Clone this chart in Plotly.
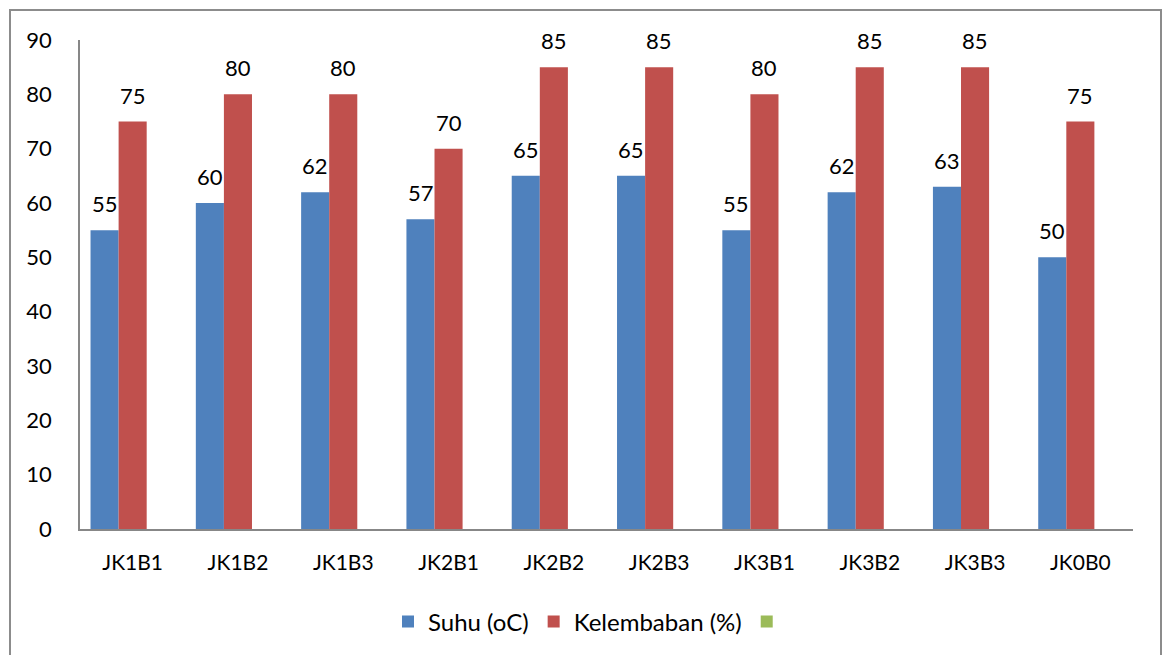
import plotly.graph_objects as go

# Treatment codes and measured values
categories = ["JK1B1", "JK1B2", "JK1B3", "JK2B1", "JK2B2",
              "JK2B3", "JK3B1", "JK3B2", "JK3B3", "JK0B0"]
suhu = [55, 60, 62, 57, 65, 65, 55, 62, 63, 50]
kelembaban = [75, 80, 80, 70, 85, 85, 80, 85, 85, 75]
ketiga = [None] * len(categories)  # third series, no values entered

y_ticks = [0, 10, 20, 30, 40, 50, 60, 70, 80, 90]

FONT = "Lato"
BLUE, RED, GREEN = "#4F81BD", "#C0504D", "#9BBB59"
AXIS = "#878787"

W, H = 1163, 655
ML, MR, MT, MB = 80, 30, 40, 125
PW, PH = W - ML - MR, H - MT - MB

fig = go.Figure()
fig.add_trace(go.Bar(x=categories, y=suhu, name="Suhu (oC)",
                     marker=dict(color=BLUE, line=dict(width=0))))
fig.add_trace(go.Bar(x=categories, y=kelembaban, name="Kelembaban (%)",
                     marker=dict(color=RED, line=dict(width=0))))
fig.add_trace(go.Bar(x=categories, y=ketiga, name="",
                     marker=dict(color=GREEN, line=dict(width=0))))

# value labels above each bar
label_font = dict(family=FONT, size=22, color="black")
annotations = []
for cat, v in zip(categories, suhu):
    annotations.append(dict(x=cat, y=v, text=str(v), showarrow=False,
                            xref="x", yref="y", xshift=-28, yshift=11,
                            yanchor="bottom", font=label_font))
for cat, v in zip(categories, kelembaban):
    annotations.append(dict(x=cat, y=v, text=str(v), showarrow=False,
                            xref="x", yref="y", xshift=0, yshift=11,
                            yanchor="bottom", font=label_font))

def px_x(p):
    return (p - ML) / PW

def px_y(p):
    return (H - MB - p) / PH

# chart frame
shapes = [dict(type="rect", xref="paper", yref="paper",
               x0=px_x(10), x1=px_x(1161), y0=px_y(675), y1=px_y(10),
               line=dict(color="#8C8C8C", width=2), fillcolor="rgba(0,0,0,0)",
               layer="below")]

fig.update_layout(
    width=W, height=H,
    margin=dict(l=ML, r=MR, t=MT, b=MB),
    paper_bgcolor="white", plot_bgcolor="white",
    barmode="group", bargap=0.2, bargroupgap=0,
    font=dict(family=FONT, size=20, color="black"),
    showlegend=True,
    legend=dict(orientation="h", x=px_x(590), xanchor="center",
                y=px_y(622), yanchor="middle",
                font=dict(family=FONT, size=24, color="black"),
                itemsizing="constant", traceorder="normal",
                bgcolor="rgba(0,0,0,0)"),
    annotations=annotations,
    shapes=shapes,
    xaxis=dict(showline=True, linecolor=AXIS, linewidth=1.5,
               showgrid=False, ticks="", ticklabelstandoff=14,
               tickfont=dict(family=FONT, size=21, color="black")),
    yaxis=dict(range=[0, 90], tickvals=y_ticks, showline=True,
               linecolor=AXIS, linewidth=1.5, showgrid=False,
               zeroline=False, ticks="", ticklabelstandoff=22,
               tickfont=dict(family=FONT, size=22, color="black")),
)

fig.write_html("out.html")
